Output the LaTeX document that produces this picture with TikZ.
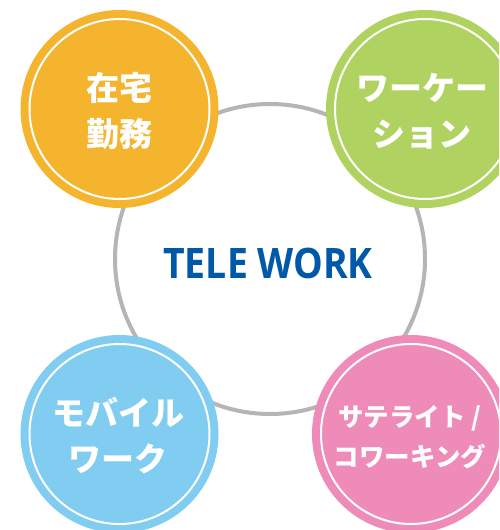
\documentclass[tikz,border=0pt]{standalone}
\usepackage{fontspec}
\newfontfamily\cjk{Noto Sans CJK JP}
\newfontfamily\latinfont{Open Sans}
\definecolor{cOrange}{HTML}{F5B42E}
\definecolor{cGreen}{HTML}{B0D260}
\definecolor{cBlue}{HTML}{80CDF1}
\definecolor{cPink}{HTML}{EE8BB8}
\definecolor{cGray}{HTML}{B5B5B5}
\definecolor{cTitle}{HTML}{0058A8}
\tikzset{
  bubble/.style={circle, minimum size=198pt, inner sep=0pt, draw=none},
  ring/.style={circle, minimum size=180pt, inner sep=0pt, draw=white, line width=2pt},
  bigtxt/.style={text=white, align=center, font=\cjk\bfseries\fontsize{33}{46}\selectfont},
  smalltxt/.style={text=white, align=center, font=\cjk\bfseries\fontsize{25.5}{40}\selectfont},
}
\begin{document}
\begin{tikzpicture}[x=1pt,y=-1pt]
\useasboundingbox (0,0) rectangle (499,530);
\clip (0,0) rectangle (499,530);
\node[circle, minimum size=310pt, inner sep=0pt, draw=cGray, line width=4pt, fill=white] (hub) at (270,259) {};
\node[font=\latinfont\bfseries\fontsize{42}{50}\selectfont, text=cTitle] (title) at (268,263) {\scalebox{0.89}[1]{TELE WORK}};
% orange
\node[bubble, fill=cOrange] (home) at (119.5,109) {};
\node[ring] (homering) at (home.center) {};
\node[bigtxt] (hometxt) at (119.5,111) {在宅\\勤務};
% green
\node[bubble, fill=cGreen] (vac) at (425,109) {};
\node[ring] (vacring) at (vac.center) {};
\node[bigtxt] (vactxt) at (422,111) {ワーケー\\ション};
% blue
\node[bubble, fill=cBlue] (mob) at (119.5,434) {};
\node[ring] (mobring) at (mob.center) {};
\node[bigtxt] (mobtxt) at (118,436) {モバイル\\ワーク};
% pink
\node[bubble, fill=cPink] (sat) at (411,434) {};
\node[ring] (satring) at (sat.center) {};
\node[smalltxt] (sattxt) at (410,437) {サテライト /\\コワーキング};
\end{tikzpicture}
\end{document}
